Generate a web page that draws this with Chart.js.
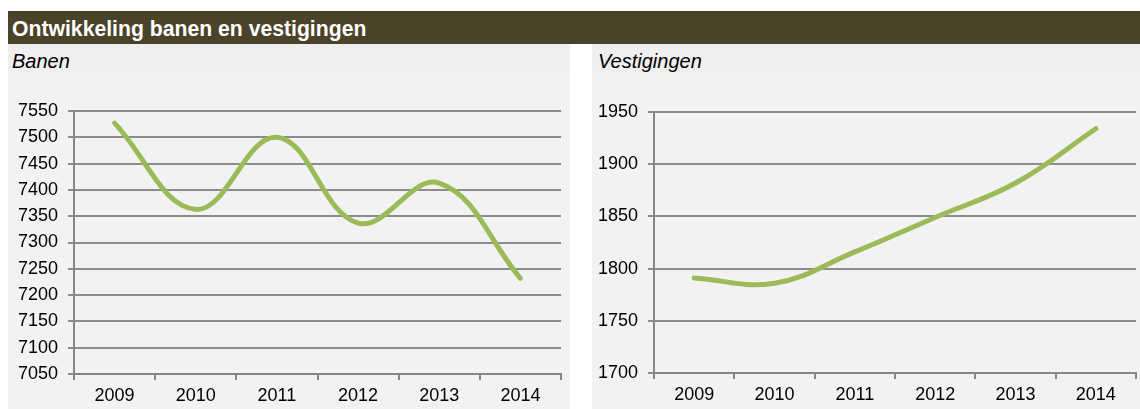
<!DOCTYPE html>
<html>
<head>
<meta charset="utf-8">
<script src="https://cdn.jsdelivr.net/npm/chart.js@4.4.1/dist/chart.umd.min.js"></script>
<style>
  body { margin: 0; width: 1140px; height: 409px; background: #fff; position: relative; overflow: hidden; font-family: "Liberation Sans", Arial, sans-serif; }
  .bar { position: absolute; left: 8px; top: 11px; width: 1132px; height: 33px; background: #4b422a; }
  .bar span { position: absolute; left: 4px; top: 7px; color: #fff; font-weight: bold; font-size: 21.2px; line-height: 21px; white-space: nowrap; }
  .panel { position: absolute; top: 44px; height: 365px; background: #f2f2f2; }
  .band { position: absolute; left: 0; top: 0; right: 0; height: 29px; background: #efefef; }
  .sub { position: absolute; left: 4px; top: 7px; font-style: italic; font-size: 20px; line-height: 20px; color: #000; white-space: nowrap; }
  canvas { position: absolute; left: 0; top: 0; }
</style>
</head>
<body>
<div class="bar"><span>Ontwikkeling banen en vestigingen</span></div>
<div class="panel" style="left:8px;width:562px;">
  <div class="band"></div>
  <div class="sub">Banen</div>
  <canvas id="banen" width="562" height="365"></canvas>
</div>
<div class="panel" style="left:592px;width:548px;">
  <div class="band"></div>
  <div class="sub" style="left:6px;">Vestigingen</div>
  <canvas id="vestigingen" width="548" height="365"></canvas>
</div>
<script>
const years = ['2009', '2010', '2011', '2012', '2013', '2014'];
const banen = [7527, 7363, 7500, 7337, 7413, 7232];
const vestigingen = [1791, 1786, 1816, 1849, 1882, 1934];
const banenTicks = [7050, 7550, 50];
const vestigingenTicks = [1700, 1950, 50];

const green = '#9bbb59';
const gridGrey = '#8c8c8c';
const axisGrey = '#868686';

function makeChart(id, values, ticks, yWidth, pad, xHeight) {
  return new Chart(document.getElementById(id), {
    type: 'line',
    data: {
      labels: years,
      datasets: [{
        data: values,
        borderColor: green,
        borderWidth: 5,
        borderCapStyle: 'round',
        pointRadius: 0,
        tension: 0.4,
        fill: false
      }]
    },
    options: {
      responsive: false,
      animation: false,
      devicePixelRatio: 1,
      layout: { padding: pad },
      plugins: { legend: { display: false }, tooltip: { enabled: false } },
      scales: {
        x: {
          offset: true,
          grid: { offset: true, drawOnChartArea: false, drawTicks: true, tickLength: 6, color: axisGrey, lineWidth: 2 },
          border: { color: axisGrey, width: 2 },
          ticks: { color: '#000', padding: 5, font: { family: 'Liberation Sans', size: 18 } },
          afterFit: s => { s.height = xHeight; }
        },
        y: {
          min: ticks[0],
          max: ticks[1],
          grid: { color: gridGrey, lineWidth: 2, drawTicks: true, tickLength: 6 },
          border: { color: axisGrey, width: 2 },
          ticks: {
            stepSize: ticks[2],
            color: '#000',
            padding: 10,
            font: { family: 'Liberation Sans', size: 18 },
            callback: v => String(v)
          },
          afterFit: s => { s.width = yWidth; }
        }
      }
    }
  });
}

makeChart('banen', banen, banenTicks, 66, { top: 67, right: 9, bottom: 0, left: 0 }, 35);
makeChart('vestigingen', vestigingen, vestigingenTicks, 62, { top: 68, right: 4, bottom: 0, left: 0 }, 36);
</script>
</body>
</html>
